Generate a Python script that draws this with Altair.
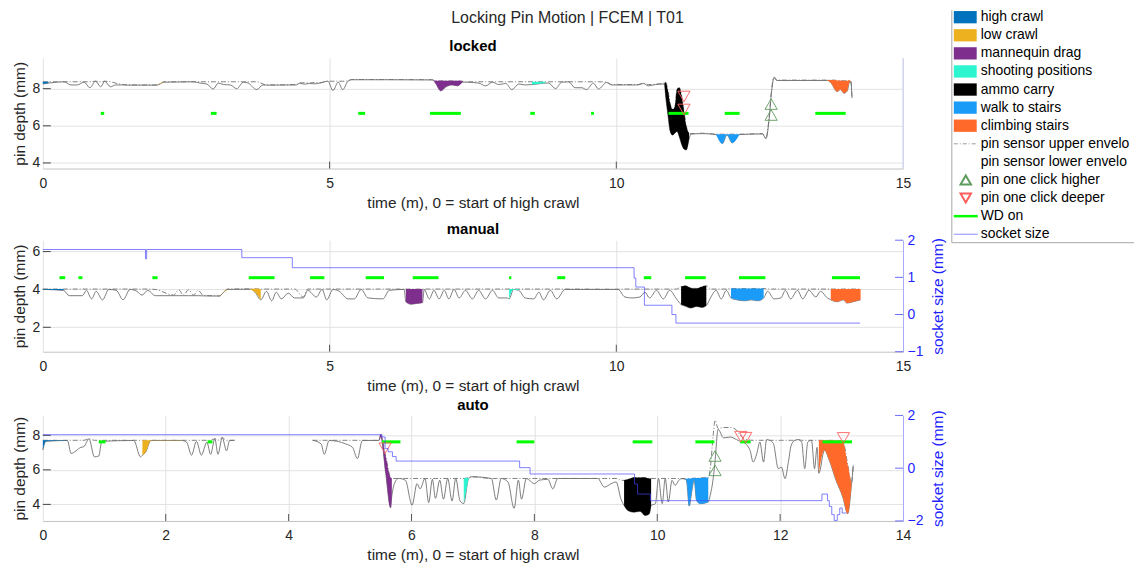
import altair as alt
import pandas as pd

FONT = "Liberation Sans"
INK = "#262626"
GRID = "#e2e2e2"
AXIS_LINE = "#c2c2c2"
BLUE = "#1f1fff"

TITLE = "Locking Pin Motion | FCEM | T01"
X_TITLE = "time (m), 0 = start of high crawl"
Y_TITLE = "pin depth (mm)"
S_TITLE = "socket size (mm)"

ACTIVITIES = ["high crawl", "low crawl", "mannequin drag", "shooting positions",
              "ammo carry", "walk to stairs", "climbing stairs"]
ACT_COLORS = ["#0072BD", "#EDB120", "#7E2F8E", "#2DF5D0", "#000000", "#1A9BF8", "#FF6A2B"]
LEGEND_LABELS = ACTIVITIES + ["pin sensor upper envelope", "pin sensor lower envelope",
                              "pin one click higher", "pin one click deeper", "WD on", "socket size"]

# ---------------- locked ----------------
LOCK_T = [0.00, 0.10, 0.37, 0.49, 0.60, 0.72, 0.82, 0.92, 1.01, 1.08,
          1.18, 1.27, 1.41, 1.47, 1.99, 2.05, 2.11, 2.63, 2.74, 2.86,
          2.97, 3.06, 3.15, 3.27, 3.38, 3.50, 3.58, 3.73, 3.84, 3.90,
          4.42, 4.48, 4.56, 4.65, 4.74, 4.83, 4.97, 5.06, 5.15, 5.23,
          5.32, 5.38, 6.00, 6.79, 6.81, 6.85, 6.94, 7.03, 7.14, 7.23,
          7.32, 7.37, 7.60, 7.72, 7.84, 7.95, 8.07, 8.18, 8.30, 8.41,
          8.53, 8.65, 8.76, 8.82, 8.94, 9.05, 9.17, 9.28, 9.40, 9.48,
          9.60, 9.69, 9.83, 9.92, 10.38, 10.47, 10.56, 10.68, 10.84, 10.86,
          10.90, 10.94, 10.98, 11.02, 11.06, 11.10, 11.14, 11.18, 11.22, 11.27,
          11.30, 11.50, 11.74, 11.85, 11.93, 12.02, 12.15, 12.55, 12.61, 12.66,
          12.71, 12.75, 12.80, 13.68, 13.77, 13.80, 13.85, 13.91, 13.97, 14.03,
          14.06, 14.09, 14.11]
LOCK_UP = [8.37, 8.37, 8.37, 8.37, 8.37, 8.37, 8.37, 8.40, 8.37, 8.40,
           8.37, 8.30, 8.22, 8.20, 8.20, 8.28, 8.37, 8.37, 8.37, 8.37,
           8.37, 8.37, 8.37, 8.37, 8.37, 8.37, 8.37, 8.37, 8.25, 8.20,
           8.22, 8.30, 8.32, 8.30, 8.33, 8.32, 8.40, 8.40, 8.40, 8.40,
           8.42, 8.49, 8.49, 8.48, 8.47, 8.43, 8.42, 8.42, 8.42, 8.42,
           8.40, 8.37, 8.37, 8.37, 8.37, 8.37, 8.37, 8.37, 8.37, 8.37,
           8.37, 8.37, 8.37, 8.37, 8.37, 8.37, 8.37, 8.37, 8.37, 8.37,
           8.37, 8.37, 8.35, 8.22, 8.22, 8.30, 8.22, 8.24, 8.30, 8.35,
           7.90, 7.20, 6.90, 7.00, 8.00, 8.05, 7.60, 6.80, 6.00, 5.60,
           5.58, 5.60, 5.55, 5.55, 5.55, 5.55, 5.55, 5.58, 5.35, 6.30,
           8.00, 8.63, 8.46, 8.46, 8.46, 8.46, 8.44, 8.44, 8.42, 8.42,
           8.45, 8.40, 7.49]
LOCK_LO = [8.25, 8.30, 8.37, 8.20, 8.20, 8.35, 8.05, 8.40, 8.10, 8.40,
           8.10, 8.20, 8.20, 8.19, 8.19, 8.26, 8.35, 8.37, 8.30, 8.25,
           7.98, 8.30, 8.22, 8.20, 8.00, 8.35, 8.30, 7.95, 8.20, 8.19,
           8.20, 8.30, 8.24, 8.28, 8.26, 8.30, 8.40, 7.90, 8.35, 7.95,
           8.40, 8.48, 8.48, 8.47, 8.45, 8.28, 7.88, 8.10, 8.20, 8.15,
           8.35, 8.35, 8.30, 8.15, 8.35, 8.22, 8.28, 7.95, 8.25, 8.20,
           8.22, 8.26, 8.30, 8.30, 8.00, 8.35, 8.37, 8.05, 8.05, 7.95,
           8.30, 7.98, 8.33, 8.20, 8.20, 8.28, 8.15, 8.22, 8.25, 7.60,
           6.60, 5.70, 5.50, 5.60, 5.70, 5.40, 5.00, 4.75, 4.70, 5.30,
           5.55, 5.58, 5.53, 5.04, 5.50, 5.08, 5.53, 5.56, 5.30, 6.20,
           7.90, 8.60, 8.44, 8.44, 8.20, 8.02, 7.84, 7.95, 7.75, 7.90,
           8.30, 8.38, 7.49]
LOCK_ACT = ["high crawl", "low crawl", "mannequin drag", "shooting positions",
            "ammo carry", "walk to stairs", "climbing stairs"]
LOCK_ACT_START = [0.00, 1.99, 6.81, 8.53, 10.84, 11.74, 13.68]
LOCK_ACT_END = [0.10, 2.11, 7.32, 8.76, 11.27, 12.15, 14.09]
LOCK_WD_START = [1.01, 2.93, 5.50, 6.75, 8.50, 9.56, 10.91, 11.89, 13.47]
LOCK_WD_END = [1.07, 3.03, 5.62, 7.29, 8.58, 9.61, 11.26, 12.15, 14.00]
LOCK_WD_LEVEL = 6.67
LOCK_HIGHER_T = [12.70, 12.70]
LOCK_HIGHER_V = [7.17, 6.58]
LOCK_DEEPER_T = [11.18, 11.18]
LOCK_DEEPER_V = [7.58, 6.88]
LOCK_X_TICKS = [0, 5, 10, 15]
LOCK_Y_TICKS = [4, 6, 8]

# ---------------- manual ----------------
MAN_T = [0.00, 0.36, 0.46, 0.69, 0.76, 0.85, 0.93, 1.04, 1.15, 1.28,
         1.40, 1.52, 1.64, 1.73, 1.83, 1.96, 2.28, 2.37, 2.45, 2.54,
         2.63, 2.71, 2.80, 3.08, 3.15, 3.22, 3.62, 3.70, 3.80, 3.90,
         3.99, 4.07, 4.16, 4.28, 4.39, 4.54, 4.62, 4.77, 4.87, 4.95,
         5.06, 5.17, 5.32, 5.43, 5.55, 5.67, 5.93, 6.04, 6.30, 6.33,
         6.42, 6.52, 6.62, 6.65, 6.74, 6.82, 6.91, 7.00, 7.08, 7.17,
         7.26, 7.37, 7.49, 7.60, 7.72, 7.84, 7.95, 8.10, 8.13, 8.21,
         8.30, 8.41, 8.56, 8.65, 8.73, 8.85, 8.96, 9.11, 10.03, 10.15,
         10.27, 10.41, 10.50, 10.58, 10.70, 10.82, 10.93, 11.05, 11.13, 11.20,
         11.30, 11.40, 11.50, 11.57, 11.65, 11.74, 11.83, 11.92, 12.00, 12.10,
         12.25, 12.35, 12.47, 12.57, 12.64, 12.75, 12.87, 12.95, 13.04, 13.16,
         13.25, 13.36, 13.48, 13.56, 13.68, 13.74, 13.85, 13.96, 14.02, 14.13,
         14.26]
MAN_UP = [4.02, 4.02, 4.02, 4.02, 4.02, 4.02, 4.02, 4.02, 4.02, 4.02,
          4.02, 4.02, 4.02, 4.02, 4.02, 4.00, 3.70, 3.98, 3.70, 3.98,
          3.70, 3.95, 3.68, 3.66, 3.85, 4.02, 4.03, 4.03, 4.02, 4.02,
          4.02, 4.02, 4.02, 4.02, 4.02, 3.60, 4.02, 4.02, 4.02, 4.02,
          4.02, 4.02, 4.02, 4.02, 4.02, 4.02, 4.02, 4.02, 4.02, 4.02,
          4.02, 4.02, 4.02, 4.02, 4.02, 4.02, 4.02, 4.02, 4.02, 4.02,
          4.02, 4.02, 4.02, 4.02, 4.02, 4.02, 4.02, 4.02, 4.02, 4.02,
          4.02, 4.02, 4.02, 4.02, 4.02, 4.02, 4.02, 4.02, 4.01, 4.02,
          4.02, 4.02, 4.02, 4.02, 4.02, 4.02, 4.02, 4.02, 4.15, 4.19,
          4.08, 4.05, 4.15, 4.19, 4.02, 4.02, 4.02, 4.02, 4.05, 4.05,
          4.05, 4.05, 4.05, 4.05, 4.02, 4.02, 4.02, 4.02, 4.02, 4.02,
          4.02, 4.02, 4.02, 4.02, 4.02, 4.02, 4.02, 4.02, 4.02, 4.02,
          4.02]
MAN_LO = [4.00, 3.95, 3.67, 3.67, 3.95, 3.50, 3.90, 3.45, 4.00, 3.95,
          3.45, 4.00, 3.90, 3.70, 3.95, 3.67, 3.67, 3.67, 3.67, 3.67,
          3.67, 3.67, 3.66, 3.65, 3.84, 4.00, 4.01, 3.85, 3.45, 3.90,
          3.40, 3.85, 3.50, 3.80, 3.55, 3.55, 3.95, 3.60, 4.00, 3.45,
          4.00, 3.90, 3.50, 3.50, 4.00, 3.55, 3.50, 3.95, 4.00, 3.35,
          3.22, 3.26, 3.30, 4.00, 3.50, 3.95, 3.50, 3.95, 3.50, 4.00,
          3.55, 3.95, 3.50, 3.95, 3.50, 3.95, 3.55, 3.55, 3.50, 4.00,
          3.95, 3.55, 3.50, 3.85, 3.45, 3.95, 3.50, 4.00, 4.00, 3.60,
          3.55, 3.60, 3.85, 3.55, 3.95, 3.50, 3.95, 3.50, 3.20, 3.12,
          3.02, 3.10, 3.05, 3.15, 3.60, 3.95, 3.50, 3.95, 3.55, 3.45,
          3.40, 3.45, 3.40, 3.55, 3.90, 3.50, 3.55, 3.95, 3.50, 3.95,
          3.50, 3.95, 3.60, 3.90, 3.55, 3.45, 3.35, 3.45, 3.28, 3.35,
          3.45]
MAN_ACT = ["high crawl", "low crawl", "low crawl", "mannequin drag", "shooting positions",
           "ammo carry", "walk to stairs", "climbing stairs"]
MAN_ACT_START = [0.00, 3.08, 3.62, 6.33, 8.13, 11.13, 12.00, 13.74]
MAN_ACT_END = [0.36, 3.22, 3.80, 6.62, 8.30, 11.57, 12.57, 14.26]
MAN_WD_START = [0.29, 0.62, 1.91, 3.59, 4.66, 5.63, 6.45, 8.13, 8.97, 10.48, 11.20, 12.14, 13.76]
MAN_WD_END = [0.39, 0.69, 2.00, 4.04, 4.91, 5.95, 6.90, 8.17, 9.11, 10.61, 11.56, 12.60, 14.25]
MAN_WD_LEVEL = 4.62
MAN_SOCK_T = [0.00, 1.79, 1.81, 3.47, 4.35, 10.31, 10.34, 10.49, 10.97, 11.04, 14.25]
MAN_SOCK_S = [1.75, 1.50, 1.75, 1.53, 1.26, 0.98, 0.74, 0.25, 0.00, -0.23, -0.23]
MAN_X_TICKS = [0, 5, 10, 15]
MAN_Y_TICKS = [2, 4, 6]
MAN_S_TICKS = [-1, 0, 1, 2]

# ---------------- auto ----------------
AUTO_T = [0.00, 0.05, 0.40, 0.46, 0.62, 0.67, 0.75, 0.84, 0.91, 0.96,
          1.48, 1.59, 1.62, 1.67, 1.76, 2.26, 2.34, 2.42, 2.50, 2.58,
          2.67, 2.73, 2.80, 2.85, 2.92, 2.99, 3.04, 3.12, 3.70, 4.39,
          4.53, 4.58, 4.66, 4.93, 5.04, 5.12, 5.20, 5.44, 5.47, 5.50,
          5.58, 5.66, 5.68, 5.75, 5.79, 5.90, 6.01, 6.09, 6.14, 6.22,
          6.28, 6.34, 6.39, 6.46, 6.52, 6.59, 6.66, 6.72, 6.79, 6.85,
          6.93, 6.98, 7.30, 7.38, 7.46, 7.57, 7.67, 7.74, 7.79, 7.87,
          8.00, 8.08, 8.22, 8.30, 8.38, 9.03, 9.14, 9.25, 9.33, 9.41,
          9.46, 9.52, 9.62, 9.72, 9.80, 9.87, 9.90, 9.97, 10.02, 10.08,
          10.13, 10.18, 10.24, 10.29, 10.35, 10.40, 10.46, 10.48, 10.52, 10.56,
          10.60, 10.64, 10.70, 10.80, 10.83, 10.86, 10.91, 10.94, 10.99, 11.08,
          11.19, 11.29, 11.35, 11.40, 11.51, 11.56, 11.62, 11.67, 11.73, 11.78,
          11.83, 11.89, 11.97, 12.02, 12.08, 12.13, 12.18, 12.24, 12.29, 12.35,
          12.40, 12.45, 12.51, 12.56, 12.60, 12.63, 12.72, 12.80, 12.91, 13.02,
          13.10, 13.16, 13.19]
AUTO_UP = [7.71, 7.71, 7.71, 7.71, 7.71, 7.71, 7.80, 7.71, 7.71, 7.71,
           7.71, 7.71, 7.71, 7.71, 7.71, 7.71, 7.71, 7.71, 7.71, 7.71,
           7.71, 7.71, 7.80, 7.71, 7.86, 7.71, 7.71, 7.71, None, 7.71,
           7.71, 7.71, 7.71, 7.71, 7.71, 7.71, 7.71, 7.71, 7.75, 8.05,
           6.80, 5.55, 5.50, 5.50, 5.50, 5.50, 5.50, 5.50, 5.50, 5.50,
           5.50, 5.50, 5.50, 5.50, 5.50, 5.50, 5.50, 5.50, 5.50, 5.50,
           5.55, 5.60, 5.50, 5.50, 5.50, 5.50, 5.50, 5.50, 5.50, 5.50,
           5.50, 5.50, 5.50, 5.50, 5.50, 5.50, 5.50, 5.50, 5.50, 5.40,
           5.39, 5.45, 5.55, 5.55, 5.55, 5.50, 5.50, 5.50, 5.50, 5.50,
           5.50, 5.50, 5.50, 5.50, 5.50, 5.50, 5.49, 5.49, 5.50, 5.50,
           5.52, 5.52, 5.53, 5.55, 5.55, 6.00, 8.00, 8.87, 8.40, 8.45,
           8.45, 8.30, 8.00, 7.85, 7.72, 7.71, 7.71, 7.71, 7.71, 7.71,
           7.71, 7.71, 7.71, 7.71, 7.71, 7.71, 7.71, 7.71, 7.75, 7.71,
           7.71, 7.71, 7.71, 7.71, 7.71, 7.71, 7.71, 7.71, 7.70, 7.65,
           6.30, 5.20, 6.26]
AUTO_LO = [7.15, 7.65, 7.70, 6.95, 7.30, 7.35, 7.80, 6.75, 6.80, 7.65,
           7.70, 6.75, 6.85, 7.00, 7.70, 7.70, 7.60, 6.85, 7.65, 6.85,
           7.60, 6.90, 7.80, 6.90, 7.86, 7.10, 7.70, 7.71, None, 7.71,
           7.50, 6.90, 7.70, 7.50, 7.30, 6.65, 7.70, 7.70, 7.70, 7.90,
           5.80, 3.80, 4.50, 5.40, 5.50, 5.40, 3.96, 5.20, 4.90, 5.50,
           4.10, 5.45, 4.35, 5.40, 4.30, 5.50, 4.20, 5.50, 4.20, 4.05,
           5.50, 5.60, 5.50, 4.25, 5.50, 5.30, 3.77, 5.40, 4.30, 5.50,
           5.20, 5.40, 5.45, 4.90, 5.50, 5.50, 5.00, 5.20, 5.30, 4.30,
           3.94, 3.65, 3.55, 3.60, 3.36, 3.45, 3.94, 4.04, 5.49, 4.04,
           5.49, 4.14, 5.39, 5.10, 5.39, 5.49, 5.45, 5.29, 3.90, 4.71,
           5.39, 4.23, 4.04, 4.10, 4.14, 4.50, 5.50, 6.50, 8.35, 7.85,
           7.90, 7.75, 7.65, 7.60, 7.13, 6.45, 6.94, 7.61, 6.45, 7.75,
           7.71, 7.52, 6.07, 6.16, 5.49, 6.36, 7.42, 7.71, 7.75, 7.61,
           6.07, 7.61, 7.71, 6.07, 7.30, 5.80, 7.13, 6.55, 5.39, 4.42,
           3.46, 5.10, 6.26]
AUTO_ACT = ["high crawl", "low crawl", "mannequin drag", "shooting positions",
            "ammo carry", "walk to stairs", "climbing stairs"]
AUTO_ACT_START = [0.00, 1.62, 5.47, 6.85, 9.46, 10.46, 12.63]
AUTO_ACT_END = [0.40, 2.26, 5.68, 6.93, 9.90, 10.83, 13.16]
AUTO_WD_START = [0.91, 2.68, 5.52, 7.71, 9.60, 10.62, 11.35, 12.69]
AUTO_WD_END = [1.02, 2.76, 5.82, 8.00, 9.92, 10.93, 11.52, 13.17]
AUTO_WD_LEVEL = 7.62
AUTO_HIGHER_T = [10.94, 10.94]
AUTO_HIGHER_V = [6.80, 5.97]
AUTO_DEEPER_T = [5.57, 11.36, 11.44, 13.03]
AUTO_DEEPER_V = [7.25, 7.92, 7.86, 7.85]
AUTO_SOCK_T = [0.00, 5.52, 5.57, 5.62, 5.69, 5.75, 7.76, 7.93, 9.63, 9.68,
               9.89, 12.68, 12.77, 12.80, 12.84, 12.88, 12.93, 12.97, 13.01, 13.08]
AUTO_SOCK_S = [1.27, 1.18, 0.75, 0.62, 0.44, 0.27, 0.02, -0.22, -0.60, -0.98,
               -1.23, -0.98, -1.23, -1.45, -1.76, -1.98, -1.76, -1.51, -1.70, -1.70]
AUTO_X_TICKS = [0, 2, 4, 6, 8, 10, 12, 14]
AUTO_Y_TICKS = [4, 6, 8]
AUTO_S_TICKS = [-2, 0, 2]

# ---------------- layout / style ----------------
W = 864
ACT_SCALE = alt.Scale(domain=ACTIVITIES, range=ACT_COLORS)


def env_frame(T, UP, LO):
    rows, seg = [], 0
    for t, u, l in zip(T, UP, LO):
        if u is None:
            seg += 1
            continue
        rows.append({"t": t, "up": u, "lo": l, "seg": seg})
    return pd.DataFrame(rows)


def area_frame(env, acts, starts, ends):
    parts = []
    for i, (a, s, e) in enumerate(zip(acts, starts, ends)):
        sub = env[(env["t"] >= s - 1e-9) & (env["t"] <= e + 1e-9)].copy()
        sub["act"] = a
        sub["win"] = i
        parts.append(sub)
    return pd.concat(parts, ignore_index=True)


def panel(T, UP, LO, acts, a_s, a_e, wd_s, wd_e, wd_lvl, hi_t, hi_v, de_t, de_v,
          xdom, xticks, ydom, yticks, height, name, title_dy,
          s_t=None, s_v=None, sdom=None, sticks=None, top_extra=False):
    xs = alt.Scale(domain=xdom, nice=False, zero=False)
    xa = alt.Axis(values=xticks, title=X_TITLE, grid=True, gridColor=GRID, ticks=False, tickSize=0,
                  domainColor=AXIS_LINE, labelFont=FONT, labelFontSize=14, labelColor=INK,
                  labelPadding=8, labelFlush=False, titleFont=FONT, titleFontSize=15.5,
                  titleFontWeight="normal", titleColor=INK, titlePadding=5)
    ys = alt.Scale(domain=ydom, nice=False, zero=False)
    ya = alt.Axis(values=yticks, title=Y_TITLE, orient="left", grid=True, gridColor=GRID,
                  ticks=False, tickSize=0, domain=False, labelFont=FONT, labelFontSize=14,
                  labelColor=INK, labelPadding=3, titleFont=FONT, titleFontSize=15.5,
                  titleFontWeight="normal", titleColor=INK, titlePadding=5)

    def X(f):
        return alt.X(f + ":Q", scale=xs, axis=xa)

    def Y(f):
        return alt.Y(f + ":Q", scale=ys, axis=ya)

    env = env_frame(T, UP, LO)
    areas = area_frame(env, acts, a_s, a_e)
    layers = []
    xt = pd.DataFrame({"t": [v for v in xticks if xdom[0] < v < xdom[1]]})
    layers.append(alt.Chart(xt).mark_rule(color="#555555", strokeWidth=1).encode(
        x=X("t"), y=alt.value(height), y2=alt.value(height - 7)))
    yt = pd.DataFrame({"v": yticks})
    layers.append(alt.Chart(yt).mark_rule(color="#444444", strokeWidth=1).encode(
        y=Y("v"), x=alt.value(0), x2=alt.value(8)))
    layers.append(alt.Chart(env).mark_line(interpolate="monotone", color="#5c5c5c",
                                           strokeWidth=0.8).encode(
        x=X("t"), y=Y("lo"), detail="seg:N"))
    layers.append(alt.Chart(env).mark_line(interpolate="monotone", color="#707070",
                                           strokeWidth=0.9, strokeDash=[5, 2, 1, 2]).encode(
        x=X("t"), y=Y("up"), detail="seg:N"))
    layers.append(alt.Chart(areas).mark_area(interpolate="monotone", opacity=1).encode(
        x=X("t"), y=alt.Y("up:Q", scale=ys, axis=ya, stack=False), y2=alt.Y2("lo"),
        color=alt.Color("act:N", scale=ACT_SCALE, legend=None), detail="win:N"))
    wd = pd.DataFrame({"t0": wd_s, "t1": wd_e, "v": [wd_lvl] * len(wd_s)})
    layers.append(alt.Chart(wd).mark_rule(color="#00ff00", strokeWidth=3).encode(
        x=X("t0"), x2=alt.X2("t1"), y=Y("v")))
    if hi_t:
        layers.append(alt.Chart(pd.DataFrame({"t": hi_t, "v": hi_v})).mark_point(
            shape="triangle-up", filled=False, color="#5e9c5e", size=150, strokeWidth=0.9,
            opacity=1).encode(x=X("t"), y=Y("v")))
    if de_t:
        layers.append(alt.Chart(pd.DataFrame({"t": de_t, "v": de_v})).mark_point(
            shape="triangle-down", filled=False, color="#ff5e5e", size=150, strokeWidth=0.9,
            opacity=1).encode(x=X("t"), y=Y("v")))
    # panel title as a text mark so it stays close to the plot area
    layers.append(alt.Chart(pd.DataFrame({"txt": [name]})).mark_text(
        font=FONT, fontSize=15, fontWeight="bold", color="#000000").encode(
        text="txt:N", x=alt.value(W / 2), y=alt.value(-title_dy)))
    if top_extra:
        layers.append(alt.Chart(pd.DataFrame({"txt": [TITLE]})).mark_text(
            font=FONT, fontSize=16, color=INK).encode(
            text="txt:N", x=alt.value(527), y=alt.value(-40)))
        layers.append(alt.Chart(pd.DataFrame({"k": [0]})).mark_rule(color="#cacaf2").encode(
            x=alt.value(W), y=alt.value(0), y2=alt.value(height)))
    pin = alt.layer(*layers)
    if s_t is not None:
        ss = alt.Scale(domain=sdom, nice=False, zero=False)
        sa = alt.Axis(values=sticks, title=S_TITLE, orient="right", grid=False, ticks=False,
                      tickSize=0, domainColor="#a8a8ff", labelColor=BLUE, titleColor=BLUE,
                      labelFont=FONT, labelFontSize=14, titleFont=FONT, titleFontSize=15.5,
                      titleFontWeight="normal", labelPadding=4, titlePadding=8,
                      titleAngle=270, titleBaseline="top")
        sdf = pd.DataFrame({"t": s_t, "s": s_v})
        sline = alt.Chart(sdf).mark_line(interpolate="step-after", color="#4444ff",
                                         strokeWidth=0.8, opacity=0.85).encode(
            x=X("t"), y=alt.Y("s:Q", scale=ss, axis=sa))
        stk = alt.Chart(pd.DataFrame({"s": sticks})).mark_rule(color="#6a6aff").encode(
            y=alt.Y("s:Q", scale=ss, axis=sa), x=alt.value(W - 8), x2=alt.value(W))
        chart = alt.layer(pin, alt.layer(sline, stk)).resolve_scale(y="independent")
    else:
        chart = pin
    return chart.properties(width=W, height=height)


p1 = panel(LOCK_T, LOCK_UP, LOCK_LO, LOCK_ACT, LOCK_ACT_START, LOCK_ACT_END,
           LOCK_WD_START, LOCK_WD_END, LOCK_WD_LEVEL,
           LOCK_HIGHER_T, LOCK_HIGHER_V, LOCK_DEEPER_T, LOCK_DEEPER_V,
           [0, 15], LOCK_X_TICKS, [3.70, 9.65], LOCK_Y_TICKS, 111, "locked", 12,
           top_extra=True)
p2 = panel(MAN_T, MAN_UP, MAN_LO, MAN_ACT, MAN_ACT_START, MAN_ACT_END,
           MAN_WD_START, MAN_WD_END, MAN_WD_LEVEL, [], [], [], [],
           [0, 15], MAN_X_TICKS, [0.71, 6.60], MAN_Y_TICKS, 112, "manual", 11,
           s_t=MAN_SOCK_T, s_v=MAN_SOCK_S, sdom=[-1, 2], sticks=MAN_S_TICKS)
p3 = panel(AUTO_T, AUTO_UP, AUTO_LO, AUTO_ACT, AUTO_ACT_START, AUTO_ACT_END,
           AUTO_WD_START, AUTO_WD_END, AUTO_WD_LEVEL,
           AUTO_HIGHER_T, AUTO_HIGHER_V, AUTO_DEEPER_T, AUTO_DEEPER_V,
           [0, 14], AUTO_X_TICKS, [3.04, 9.15], AUTO_Y_TICKS, 106, "auto", 10,
           s_t=AUTO_SOCK_T, s_v=AUTO_SOCK_S, sdom=[-2, 2], sticks=AUTO_S_TICKS)

# ---------------- legend ----------------
# legend view is aligned with the first panel's plot origin; items sit above and beside it
LW, LH = 183, 186
LTOP, LBOT = -48, 185.5
leg = pd.DataFrame({"label": LEGEND_LABELS, "idx": list(range(len(LEGEND_LABELS)))})
ly = alt.Scale(domain=[0, 12], range=[-41, 177])


def LY(f):
    return alt.Y(f + ":Q", scale=ly, axis=None)


sw = leg.iloc[:7].copy()
sw["y0"] = sw["idx"] - 0.34
sw["y1"] = sw["idx"] + 0.34
border = pd.DataFrame({"k": [0]})
legend = alt.layer(
    alt.Chart(border).mark_rule(color="#a6a6a6").encode(
        x=alt.value(0), y=alt.value(LTOP), y2=alt.value(LBOT)),
    alt.Chart(border).mark_rule(color="#a6a6a6").encode(
        x=alt.value(0), x2=alt.value(LW), y=alt.value(LBOT)),
    alt.Chart(sw).mark_rect().encode(
        x=alt.value(2), x2=alt.value(25), y=LY("y0"), y2=alt.Y2("y1"),
        color=alt.Color("label:N", scale=ACT_SCALE, legend=None)),
    alt.Chart(leg.iloc[[7]]).mark_rule(color="#9a9a9a", strokeDash=[4, 2, 1, 2]).encode(
        x=alt.value(2), x2=alt.value(26), y=LY("idx")),
    alt.Chart(leg.iloc[[9]]).mark_point(shape="triangle-up", filled=False, color="#5e9c5e",
                                        size=110, opacity=1).encode(x=alt.value(14), y=LY("idx")),
    alt.Chart(leg.iloc[[10]]).mark_point(shape="triangle-down", filled=False, color="#ff5e5e",
                                         size=110, opacity=1).encode(x=alt.value(14), y=LY("idx")),
    alt.Chart(leg.iloc[[11]]).mark_rule(color="#00ff00", strokeWidth=2.5).encode(
        x=alt.value(2), x2=alt.value(26), y=LY("idx")),
    alt.Chart(leg.iloc[[12]]).mark_rule(color="#6a6aff", strokeWidth=0.8).encode(
        x=alt.value(2), x2=alt.value(26), y=LY("idx")),
    alt.Chart(leg).mark_text(align="left", baseline="middle", font=FONT, fontSize=14,
                             color="#000000", limit=LW - 30, ellipsis="\u200b").encode(
        x=alt.value(29), y=LY("idx"), text="label:N"),
).properties(width=LW, height=LH)

col = alt.vconcat(p1, alt.vconcat(p2, p3, spacing=3), spacing=10)
chart = alt.hconcat(col, legend, spacing=4).properties(
    padding={"left": 3, "top": 0, "right": 0, "bottom": 0}, background="white"
).configure(font=FONT).configure_view(stroke="transparent")

chart.save("out.html", embed_options={"renderer": "svg", "actions": False})
